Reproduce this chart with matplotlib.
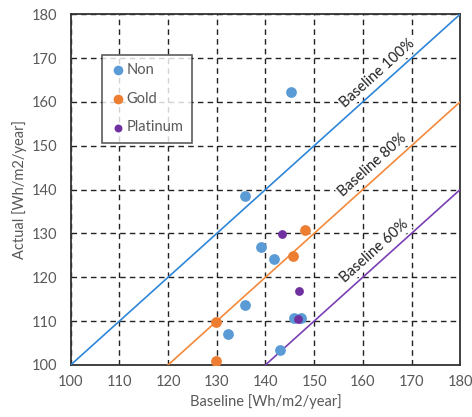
import numpy as np
import matplotlib.pyplot as plt
from matplotlib import transforms

plt.rcParams['font.family'] = ['Lato', 'DejaVu Sans']

# data
non_x = [145.3, 135.8, 139.1, 141.7, 135.7, 132.2, 143.0, 145.9, 147.2]
non_y = [162.3, 138.5, 127.0, 124.2, 113.6, 107.0, 103.4, 110.7, 110.7]
gold_x = [148.1, 145.7, 129.8, 129.8]
gold_y = [130.7, 124.8, 109.8, 100.9]
plat_x = [143.3, 146.9, 146.6]
plat_y = [129.8, 116.9, 110.4]

ref_offsets = [0, 20, 40]
ref_labels = ['Baseline 100%', 'Baseline 80%', 'Baseline 60%']
ref_colors = ['#2E86D9', '#F4893A', '#7B3FB5']
label_x = [164.6, 163.6, 164.0]

gray = '#595959'

fig = plt.figure(figsize=(4.72, 4.17), dpi=100)
ax = fig.add_axes([0.150, 0.125, 0.825, 0.841])

xs = np.array([100, 180])
for off, c in zip(ref_offsets, ref_colors):
    ax.plot(xs, xs - off, color=c, lw=1.2, zorder=3)

ax.scatter(non_x, non_y, s=60, color='#5B9BD5', label='Non', zorder=4, linewidths=0)
ax.scatter(gold_x, gold_y, s=60, color='#ED7D31', label='Gold', zorder=4, linewidths=0)
ax.scatter(plat_x, plat_y, s=40, color='#7030A0', label='Platinum', zorder=5, linewidths=0)

# labels sit just above each reference line, with white behind them
shift = transforms.offset_copy(ax.transData, fig=fig, x=-0.671 * 8.5, y=0.741 * 8.5, units='points')
for lx, off, t in zip(label_x, ref_offsets, ref_labels):
    ax.text(lx, lx - off, t, rotation=42, rotation_mode='anchor', ha='center', va='center',
            fontsize=10.5, color='#222222', transform=shift, zorder=2.5,
            bbox=dict(facecolor='white', edgecolor='none', pad=1.0))

ax.set_xlim(100, 180)
ax.set_ylim(100, 180)
ax.set_xticks(np.arange(100, 181, 10))
ax.set_yticks(np.arange(100, 181, 10))
ax.grid(True, color='#222222', ls=(0, (4, 3)), lw=1.0)
ax.set_axisbelow(True)
ax.tick_params(colors=gray, labelsize=10.5, length=0)
ax.tick_params(axis='y', pad=10)
ax.tick_params(axis='x', pad=7)
for s in ax.spines.values():
    s.set_color('#333333')
    s.set_linewidth(1.3)

ax.set_xlabel('Baseline [Wh/m2/year]', color=gray, fontsize=10.5, labelpad=4)
ax.set_ylabel('Actual [Wh/m2/year]', color=gray, fontsize=10.5, labelpad=3)

leg = ax.legend(loc='upper left', bbox_to_anchor=(0.08, 0.885), frameon=True,
                fancybox=False, handletextpad=0.1, labelspacing=1.0,
                fontsize=10.5, borderpad=0.6, handlelength=1.0, markerscale=0.9,
                borderaxespad=0)
leg.get_frame().set_edgecolor('#333333')
leg.get_frame().set_linewidth(1.2)
for txt in leg.get_texts():
    txt.set_color(gray)

plt.savefig('out.png', dpi=100)
